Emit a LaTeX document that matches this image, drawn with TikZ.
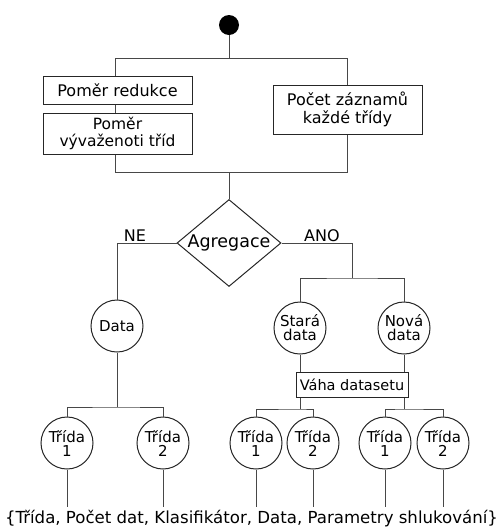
\documentclass[tikz,border=0pt]{standalone}
\usepackage{fontspec}
\setmainfont{DejaVu Sans}
\usetikzlibrary{shapes.geometric}
\colorlet{linecol}{black!72}
\tikzset{box/.style={draw=black!85,line width=1pt,align=center,inner sep=0pt,
  minimum width=149pt,font=\fontsize{16}{17.5}\selectfont},
 krug/.style={circle,draw=black!85,line width=1pt,minimum size=52pt,inner sep=0pt,
  align=center,font=\fontsize{15}{14}\selectfont},
 spoj/.style={draw=linecol,line width=1pt},
 every node/.style={font=\fontsize{16}{18}\selectfont}}

\begin{document}
\begin{tikzpicture}[x=1pt,y=-1pt]
\useasboundingbox (0,0) rectangle (501,531);
% start
\node[circle,fill=black,minimum size=20pt,inner sep=0pt] (start) at (229,25) {};
% parameters
\node[box,minimum height=28pt] (red) at (117.5,90) {Poměr redukce};
\node[box,minimum height=41pt,font=\fontsize{15.5}{17}\selectfont] (vyv) at (117.5,133.5)
  {Poměr\\vývaženoti tříd};
\node[box,minimum height=49pt] (pocet) at (347.5,109.5) {Počet záznamů\\každé třídy};
\coordinate (jm) at (229,58);
\coordinate (jl) at (115,58);
\coordinate (jr) at (347,58);
\coordinate (kl) at (115,172);
\coordinate (km) at (229,172);
\coordinate (kr) at (347,172);
% decision
\node[diamond,draw=black!85,line width=1pt,minimum width=104pt,minimum height=87pt,
  inner sep=0pt,font=\fontsize{17.5}{20}\selectfont] (agr) at (229,243)
  {\makebox[30pt]{Agregace}};
\node (ne) at (135,236) {NE};
\node (ano) at (322,236) {ANO};
% data
\node[krug] (data) at (117,326) {Data};
\node[krug] (stara) at (300,328) {Stará\\data};
\node[krug] (nova) at (404,328) {Nová\\data};
\node[box,minimum width=112pt,minimum height=25pt,font=\fontsize{14.5}{17}\selectfont]
  (vaha) at (352,384.5) {Váha datasetu};
\coordinate (aj) at (352,278);
% classes
\foreach \n/\x/\c in {1/67/1,2/163/2,3/256/1,4/313/2,5/385/1,6/443/2}
  \node[krug] (t\n) at (\x,443) {Třída\\\c};
\coordinate (dj) at (117,407);
\coordinate (sj) at (300,409);
\coordinate (nj) at (404,409);
\coordinate (ej) at (0,507);
\node[inner sep=0pt,font=\fontsize{16.6}{19}\selectfont] (out) at (251.5,519)
  {\{Třída, Počet dat, Klasifikátor, Data, Parametry shlukování\}};

% connectors
\draw[spoj] (start) -- (jm);
\draw[spoj] (red.north -| jl) -- (jl) -- (jr) -- (pocet.north -| jr);
\draw[spoj] (red.south -| jl) -- (vyv.north -| jl);
\draw[spoj] (vyv.south -| kl) -- (kl) -- (kr) -- (pocet.south -| kr);
\draw[spoj] (km) -- (agr.north);
\draw[spoj] (agr.west) -| (data.north);
\draw[spoj] (agr.east) -| (aj);
\draw[spoj] (stara.north) |- (aj) -| (nova.north);
\draw[spoj] (stara.south) -- (vaha.north -| stara);
\draw[spoj] (nova.south) -- (vaha.north -| nova);
\draw[spoj] (data.south) -- (dj);
\draw[spoj] (t1.north) |- (dj) -| (t2.north);
\draw[spoj] (vaha.south -| sj) -- (sj);
\draw[spoj] (t3.north) |- (sj) -| (t4.north);
\draw[spoj] (vaha.south -| nj) -- (nj);
\draw[spoj] (t5.north) |- (nj) -| (t6.north);
\foreach \n in {1,...,6}
  \draw[spoj] (t\n.south) -- (t\n.south |- ej);
\end{tikzpicture}
\end{document}
